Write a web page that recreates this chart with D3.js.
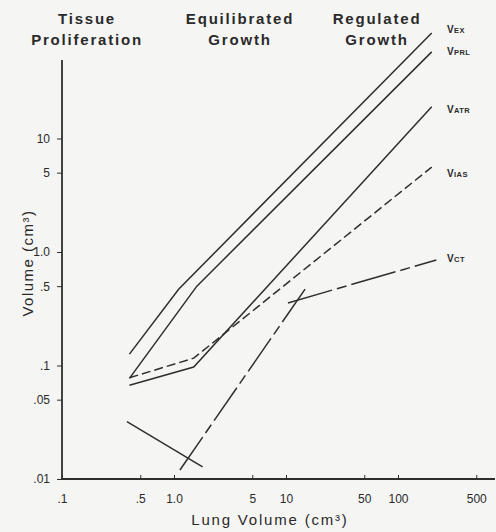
<!DOCTYPE html>
<html>
<head>
<meta charset="utf-8">
<script src="https://cdn.jsdelivr.net/npm/d3@7"></script>
<style>
  html, body { margin: 0; padding: 0; background: #f5f5f3; }
  svg { display: block; }
  text { font-family: "Liberation Sans", Arial, sans-serif; fill: #2a2a2a; }
</style>
</head>
<body>
<svg id="chart" width="496" height="532"></svg>
<script>
// ---- data ----
const xTickValues = [0.1, 0.5, 1, 5, 10, 50, 100, 500];
const xTickLabels = [".1", ".5", "1.0", "5", "10", "50", "100", "500"];
const yTickValues = [0.01, 0.05, 0.1, 0.5, 1, 5, 10];
const yTickLabels = [".01", ".05", ".1", ".5", "1.0", "5", "10"];

const phaseLabels = [["Tissue", "Proliferation"], ["Equilibrated", "Growth"], ["Regulated", "Growth"]];

const vexLung  = [0.4, 1.1, 200];
const vexVol   = [0.126, 0.47, 85];
const vprlLung = [0.4, 1.6, 200];
const vprlVol  = [0.077, 0.5, 58];
const vatrLung = [0.4, 1.5, 200];
const vatrVol  = [0.067, 0.097, 19];
const viasLung = [0.4, 1.5, 200];
const viasVol  = [0.078, 0.116, 5.6];
const vct1Lung = [0.38, 1.8];
const vct1Vol  = [0.032, 0.0128];
const vct2Lung = [1.13, 15];
const vct2Vol  = [0.012, 0.48];
const vct3Lung = [10.4, 220];
const vct3Vol  = [0.356, 0.85];

const seriesNames = ["EX", "PRL", "ATR", "IAS", "CT"];

// ---- layout ----
const svg = d3.select("#chart");
const x = d3.scaleLog().domain([0.1, 1000]).range([62, 62 + 4 * 112]);
const y = d3.scaleLog().domain([0.01, 100]).range([479, 479 - 4 * 113.5]);
const ink = "#2e2e2e";

// axes
const xAxis = d3.axisBottom(x).tickValues(xTickValues)
  .tickFormat((d, i) => xTickLabels[i]).tickSize(-4).tickPadding(15);
const gx = svg.append("g").attr("transform", `translate(0,${y(0.01)})`).call(xAxis);
gx.select(".domain").remove();
gx.selectAll("line").attr("stroke", ink).attr("stroke-width", 1);
gx.selectAll("text").style("font-size", "12px").attr("fill", ink);

const yAxis = d3.axisLeft(y).tickValues(yTickValues)
  .tickFormat((d, i) => yTickLabels[i]).tickSize(5).tickPadding(7);
const gy = svg.append("g").attr("transform", `translate(${x(0.1)},0)`).call(yAxis);
gy.select(".domain").remove();
gy.selectAll("line").attr("stroke", ink).attr("stroke-width", 1);
gy.selectAll("text").style("font-size", "12px").attr("fill", ink);

// axis lines
svg.append("line").attr("x1", x(0.1)).attr("x2", x(0.1)).attr("y1", 60).attr("y2", y(0.01) + 1)
  .attr("stroke", ink).attr("stroke-width", 1.8);
svg.append("line").attr("x1", x(0.1) - 1).attr("x2", 495).attr("y1", y(0.01)).attr("y2", y(0.01))
  .attr("stroke", ink).attr("stroke-width", 1.8);

// axis titles
svg.append("text").attr("x", 270).attr("y", 525).attr("text-anchor", "middle")
  .style("font-size", "15px").style("letter-spacing", "1.8px").text("Lung Volume (cm³)");
svg.append("text").attr("transform", "translate(33,263) rotate(-90)").attr("text-anchor", "middle")
  .style("font-size", "15px").style("letter-spacing", "1.5px").text("Volume (cm³)");

// phase labels
const phaseX = [87, 240, 377];
phaseLabels.forEach((lines, i) => {
  lines.forEach((t, j) => {
    svg.append("text").attr("x", phaseX[i]).attr("y", 24 + j * 21).attr("text-anchor", "middle")
      .style("font-size", "15px").style("font-weight", "bold").style("letter-spacing", "1.8px")
      .attr("fill", "#333").text(t);
  });
});

// lines
const line = d3.line().x(d => x(d[0])).y(d => y(d[1]));
const series = [
  {lung: vexLung, vol: vexVol, dash: null},
  {lung: vprlLung, vol: vprlVol, dash: null},
  {lung: vatrLung, vol: vatrVol, dash: null},
  {lung: viasLung, vol: viasVol, dash: "9,4"},
  {lung: vct1Lung, vol: vct1Vol, dash: null},
  {lung: vct2Lung, vol: vct2Vol, dash: "40,5,10,5"},
  {lung: vct3Lung, vol: vct3Vol, dash: "46,5,10,5"}
];
series.forEach(s => {
  svg.append("path").datum(d3.zip(s.lung, s.vol)).attr("d", line)
    .attr("fill", "none").attr("stroke", ink).attr("stroke-width", 1.5)
    .attr("stroke-dasharray", s.dash);
});

// series labels
const labelEnds = [vexVol[2], vprlVol[2], vatrVol[2], viasVol[2], vct3Vol[1]];
const labelDy = [0, 3, 6, 10, 2];
seriesNames.forEach((n, i) => {
  const t = svg.append("text").attr("x", 447).attr("y", y(labelEnds[i]) + labelDy[i])
    .style("font-weight", "bold").style("letter-spacing", "0.4px");
  t.append("tspan").style("font-size", "10px").text("V");
  t.append("tspan").style("font-size", "7.5px").text(n);
});
</script>
</body>
</html>
